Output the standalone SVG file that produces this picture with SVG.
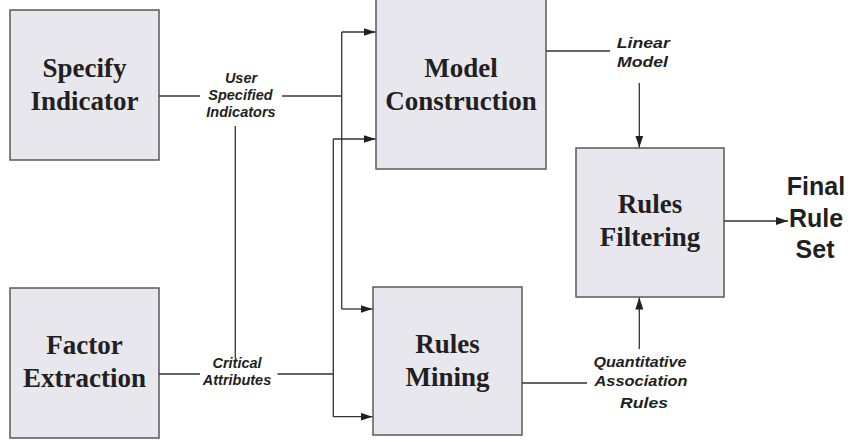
<svg xmlns="http://www.w3.org/2000/svg" width="850" height="442" viewBox="0 0 850 442">
<defs>
<style>
.box{fill:#e7e7ed;stroke:#5a5a5a;stroke-width:1.5}
.bt{font-family:'Liberation Serif','Times New Roman','DejaVu Serif',serif;font-weight:700;font-size:27px;fill:#231f20;text-anchor:middle}
.lb{font-family:'Liberation Sans',Arial,sans-serif;font-weight:700;font-style:italic;font-size:14.5px;fill:#231f20;text-anchor:middle}
.lw{font-size:15px}
.fn{font-family:'Liberation Sans',Arial,sans-serif;font-weight:700;font-size:25px;fill:#231f20;text-anchor:middle}
.ln{fill:none;stroke:#333;stroke-width:1.3}
</style>
<marker id="ah" viewBox="0 0 12 8" refX="12" refY="4" markerWidth="12" markerHeight="8" markerUnits="userSpaceOnUse" orient="auto">
<path d="M0,0 L12,4 L0,8 z" fill="#231f20"/>
</marker>
</defs>
<rect width="850" height="442" fill="#fff"/>
<g id="specify-indicator">
<rect class="box" x="10" y="10" width="149" height="150"/>
<text class="bt" x="84.5" y="77">Specify</text>
<text class="bt" x="84.5" y="110">Indicator</text>
</g>
<g id="factor-extraction">
<rect class="box" x="10" y="288" width="149" height="150"/>
<text class="bt" x="84.5" y="354">Factor</text>
<text class="bt" x="84.5" y="387">Extraction</text>
</g>
<g id="model-construction">
<rect class="box" x="376" y="-2" width="170" height="171"/>
<text class="bt" x="461" y="77">Model</text>
<text class="bt" x="461" y="110">Construction</text>
</g>
<g id="rules-mining">
<rect class="box" x="373" y="287" width="149" height="148"/>
<text class="bt" x="447.5" y="353">Rules</text>
<text class="bt" x="447.5" y="386">Mining</text>
</g>
<g id="rules-filtering">
<rect class="box" x="576" y="148" width="148" height="149"/>
<text class="bt" x="650" y="213">Rules</text>
<text class="bt" x="650" y="246">Filtering</text>
</g>
<g id="final-rule-set">
<text class="fn" x="816" y="195">Final</text>
<text class="fn" x="816" y="227">Rule</text>
<text class="fn" x="815" y="258">Set</text>
</g>
<g id="connectors">
<path class="ln" d="M159,96 H200 M282,96 H341.7"/>
<path class="ln" d="M341.7,32 V309"/>
<path class="ln" d="M341.7,32 H375.5" marker-end="url(#ah)"/>
<path class="ln" d="M341.7,309 H372.5" marker-end="url(#ah)"/>
<path class="ln" d="M333.3,139 V416.7"/>
<path class="ln" d="M333.3,139 H375.5" marker-end="url(#ah)"/>
<path class="ln" d="M333.3,416.7 H372.5" marker-end="url(#ah)"/>
<path class="ln" d="M159,374 H200 M277.5,374 H333.3"/>
<path class="ln" d="M235.3,126 V358"/>
<path class="ln" d="M546,51 H610"/>
<path class="ln" d="M639.3,83 V147.5" marker-end="url(#ah)"/>
<path class="ln" d="M522,383 H587"/>
<path class="ln" d="M639.3,349 V297.5" marker-end="url(#ah)"/>
<path class="ln" d="M724,221 H788" marker-end="url(#ah)"/>
<text class="lb" x="241" y="82.5">User</text>
<text class="lb" x="240.5" y="99.5">Specified</text>
<text class="lb" x="241" y="117">Indicators</text>
<text class="lb" x="237" y="368">Critical</text>
<text class="lb" x="237" y="385">Attributes</text>
<text class="lb lw" x="643.3" y="48.3" textLength="53" lengthAdjust="spacingAndGlyphs">Linear</text>
<text class="lb lw" x="642.5" y="67" textLength="51" lengthAdjust="spacingAndGlyphs">Model</text>
<text class="lb" style="font-size:15.5px" x="640" y="366.7" textLength="93" lengthAdjust="spacingAndGlyphs">Quantitative</text>
<text class="lb" style="font-size:15.5px" x="641" y="386" textLength="93" lengthAdjust="spacingAndGlyphs">Association</text>
<text class="lb" style="font-size:15.5px" x="644" y="407.5" textLength="48" lengthAdjust="spacingAndGlyphs">Rules</text>
</g>
</svg>
